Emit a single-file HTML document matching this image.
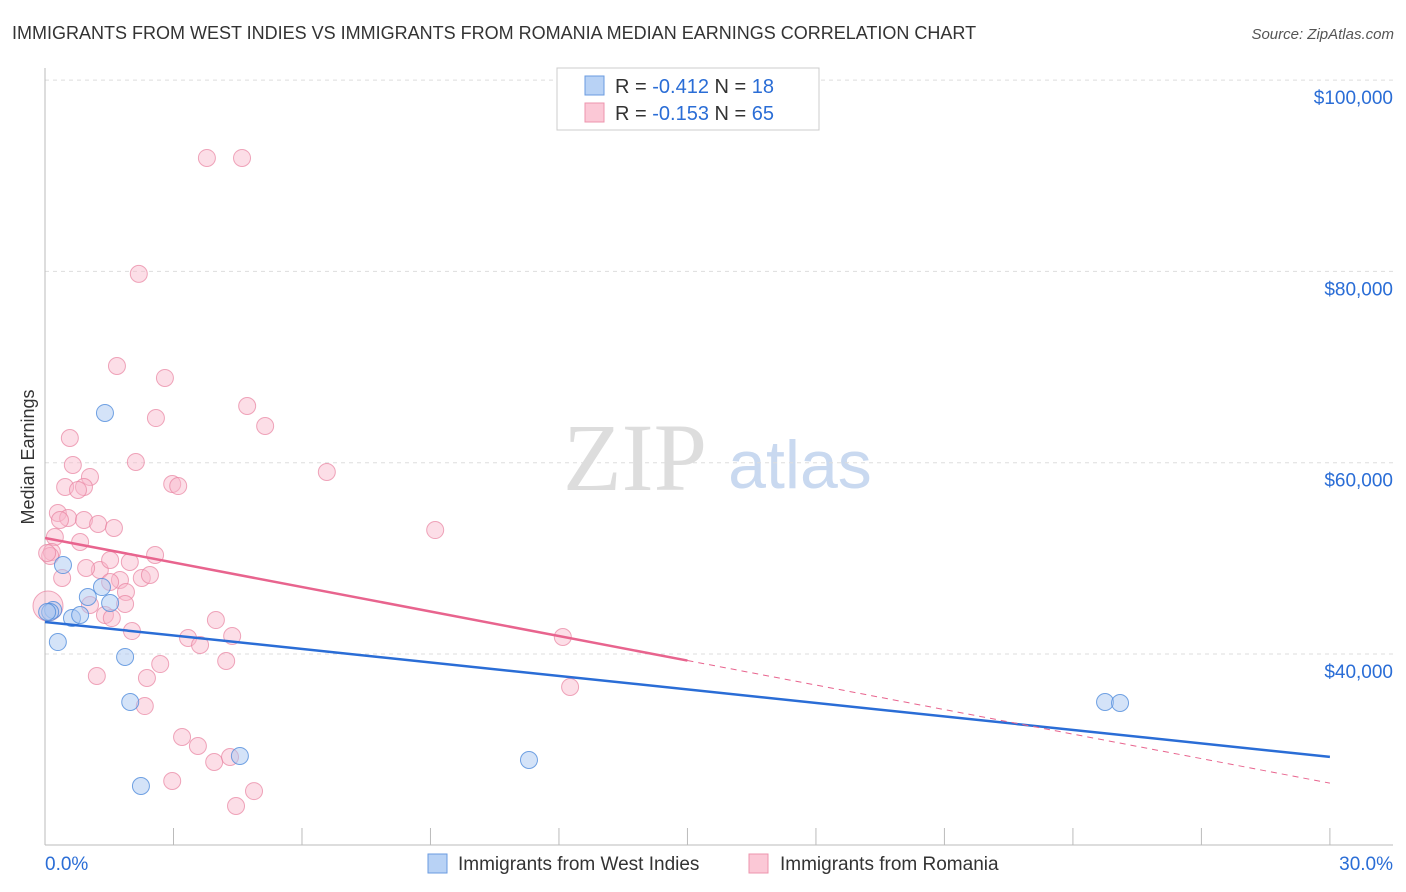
<!DOCTYPE html>
<html><head><meta charset="utf-8"><style>
body{margin:0;background:#fff;font-family:"Liberation Sans",sans-serif;}
#wrap{position:relative;width:1406px;height:892px;overflow:hidden;}
</style></head><body>
<div id="wrap">
<svg id="svg" width="1406" height="892" xmlns="http://www.w3.org/2000/svg">
<text x="12" y="39" font-size="18" fill="#333">IMMIGRANTS FROM WEST INDIES VS IMMIGRANTS FROM ROMANIA MEDIAN EARNINGS CORRELATION CHART</text>
<text x="1394" y="39" font-size="15" fill="#555" font-style="italic" text-anchor="end">Source: ZipAtlas.com</text>
<text x="34" y="457" font-size="18" fill="#333" text-anchor="middle" transform="rotate(-90 34 457)">Median Earnings</text>
<g>
<text x="635" y="490" font-size="96" fill="#ddd" font-family="Liberation Serif,serif" text-anchor="middle">ZIP</text>
<text x="800" y="488" font-size="68" fill="#c9d9f0" text-anchor="middle">atlas</text>
</g>
<g id="grid"></g><g id="axes"></g><g id="marks"></g>
<g>
<rect x="557" y="68" width="262" height="62" fill="#fff" stroke="#ccc"/>
<rect x="585" y="76" width="19" height="19" fill="#b8d2f5" stroke="#6a9be0"/>
<rect x="585" y="103" width="19" height="19" fill="#fbc8d6" stroke="#ee94ad"/>
<text x="615" y="93" font-size="20" fill="#333">R = <tspan fill="#2a6dd6">-0.412</tspan>   N = <tspan fill="#2a6dd6"> 18</tspan></text>
<text x="615" y="120" font-size="20" fill="#333">R = <tspan fill="#2a6dd6">-0.153</tspan>   N = <tspan fill="#2a6dd6">65</tspan></text>
</g>
<g>
<rect x="428" y="854" width="19" height="19" fill="#b8d2f5" stroke="#6a9be0"/>
<text x="458" y="870" font-size="19" fill="#333">Immigrants from West Indies</text>
<rect x="749" y="854" width="19" height="19" fill="#fbc8d6" stroke="#ee94ad"/>
<text x="780" y="870" font-size="19" fill="#333">Immigrants from Romania</text>
</g>
</svg>
</div>
<script>
const yTicks=[40000,60000,80000,100000];
const yTickLabels=["$40,000","$60,000","$80,000","$100,000"];
const xTickLabels=["0.0%","30.0%"];
const blueX=[0.19,0.12,0.42,0.30,0.63,0.82,1.00,1.33,1.40,1.52,1.87,1.99,2.24,4.55,11.30,24.75,25.10,0.05];
const blueY=[44600,44390,49300,41250,43760,44080,45960,47000,65200,45330,39690,34980,26200,29340,28920,34980,34880,44390];
const pinkX=[3.78,4.60,2.19,1.68,2.80,4.72,2.59,5.14,0.58,0.65,2.12,6.58,1.05,0.91,0.47,0.77,2.97,3.11,9.11,0.30,0.54,0.91,1.24,1.61,0.35,0.23,0.82,0.16,0.12,2.57,1.98,1.28,1.75,2.26,2.45,1.52,1.89,1.05,1.87,1.40,1.56,3.99,2.03,3.34,4.37,3.62,12.09,4.23,2.69,1.21,2.38,12.26,2.33,3.20,3.57,3.95,4.32,2.97,4.88,4.46,0.07,0.05,1.52,0.40,0.96];
const pinkY=[91860,91860,79740,70110,68860,65930,64670,63840,62580,59760,60070,59030,58510,57460,57460,57150,57770,57560,52960,54740,54220,54010,53590,53170,54010,52230,51710,50660,50250,50350,49620,48780,47740,47950,48260,47530,46480,45120,45230,44080,43760,43550,42400,41670,41880,40940,41780,39270,38950,37700,37490,36550,34560,31320,30380,28710,29230,26720,25670,24110,45020,50560,49830,47950,48990];
const blueTrend=[43350,29240];
const pinkTrend=[52130,26500];
const NS="http://www.w3.org/2000/svg";
const X=p=>45+p*42.83;
const Y=v=>654-(v-40000)*191.3/20000;
function mk(t,a,parent){const e=document.createElementNS(NS,t);for(const k in a)e.setAttribute(k,a[k]);document.getElementById(parent).appendChild(e);return e;}
yTicks.forEach((v,i)=>{
 const g=mk('line',{x1:45,x2:1393,y1:Y(v),y2:Y(v),stroke:'#ddd','stroke-dasharray':'4,4'},'grid');
 
 
 const t=mk('text',{x:1393,y:Y(v)+24,'font-size':19,fill:'#2a6dd6','text-anchor':'end'},'grid');
 t.textContent=yTickLabels[i];
 
 
});
const ax=mk('line',{x1:45,x2:45,y1:68,y2:845,stroke:'#bbb'},'axes');


const bx=mk('line',{x1:45,x2:1393,y1:845,y2:845,stroke:'#bbb'},'axes');


for(let p=0;p<=30;p+=3){
 const tk=mk('line',{x1:X(p),x2:X(p),y1:828,y2:845,stroke:'#bbb'},'axes');
 
 
}
[[0,'start',45],[30,'end',1393]].forEach((d,i)=>{
 const t=mk('text',{x:d[2],y:870,'font-size':19,fill:'#2a6dd6','text-anchor':d[1]},'axes');
 t.textContent=xTickLabels[i];
 
 
});
pinkX.forEach((x,i)=>{
 const c=mk('circle',{cx:X(x),cy:Y(pinkY[i]),r:(i==60?15:8.5),fill:'rgba(248,182,202,0.45)',stroke:'rgba(232,130,160,0.7)','stroke-width':1},'marks');
 
 
});
blueX.forEach((x,i)=>{
 const c=mk('circle',{cx:X(x),cy:Y(blueY[i]),r:8.5,fill:'rgba(170,200,242,0.5)',stroke:'rgba(80,140,220,0.8)','stroke-width':1},'marks');
 
 
});
const pv=p=>pinkTrend[0]+(pinkTrend[1]-pinkTrend[0])*p/30;
const l1=mk('line',{x1:X(0),y1:Y(blueTrend[0]),x2:X(30),y2:Y(blueTrend[1]),stroke:'#2a6dd6','stroke-width':2.5},'marks');


const l2=mk('line',{x1:X(0),y1:Y(pv(0)),x2:X(15),y2:Y(pv(15)),stroke:'#e8648e','stroke-width':2.5},'marks');


const l3=mk('line',{x1:X(15),y1:Y(pv(15)),x2:X(30),y2:Y(pv(30)),stroke:'#e8648e','stroke-width':1,'stroke-dasharray':'6,5'},'marks');


</script>
</body></html>
